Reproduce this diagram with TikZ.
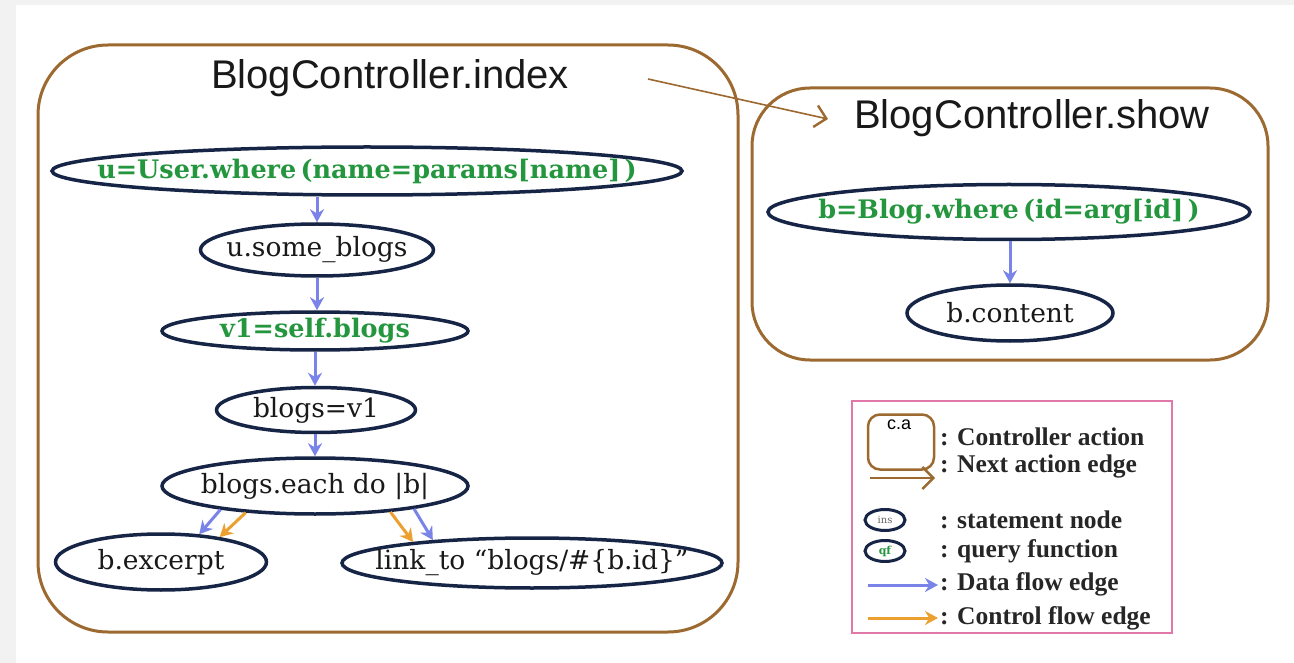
\documentclass[tikz,border=0pt]{standalone}
\usepackage{fontspec}
\newfontfamily\titlefont{Liberation Sans}
\newfontfamily\nodefont{DejaVu Serif}
\newfontfamily\legendfont{Liberation Serif}
\usetikzlibrary{arrows.meta,shapes.geometric}

\definecolor{boxbrown}{RGB}{156,106,48}
\definecolor{navyline}{RGB}{22,36,70}
\definecolor{querygreen}{RGB}{36,150,62}
\definecolor{dataflow}{RGB}{122,132,232}
\definecolor{ctrlflow}{RGB}{236,160,48}
\definecolor{legendpink}{RGB}{226,120,170}
\definecolor{framegray}{RGB}{242,242,242}

% ellipse whose size is set by minimum width/height, not by its text
\newcommand{\fixedtext}[1]{\makebox[0pt]{#1}}

\tikzset{
  action/.style={draw=boxbrown, line width=3pt, rounded corners=70pt},
  stmt/.style={ellipse, draw=navyline, line width=3.5pt, inner sep=0pt,
    font=\nodefont\fontsize{26.5}{31}\selectfont, text=black!90},
  query/.style={stmt, text=querygreen, font=\nodefont\bfseries\fontsize{25.5}{30}\selectfont},
  dflow/.style={draw=dataflow, line width=3pt, -{Stealth[length=13pt,width=14pt]}},
  cflow/.style={draw=ctrlflow, line width=3pt, -{Stealth[length=13pt,width=14pt]}},
  nextact/.style={draw=boxbrown, line width=1.6pt, -{Straight Barb[length=11pt,width=22pt,line width=2.4pt]}},
  title/.style={font=\titlefont\fontsize{40}{45}\selectfont, text=black!90},
  legtext/.style={anchor=west, font=\legendfont\bfseries\fontsize{25.5}{30}\selectfont, text=black!85, inner sep=0pt},
}

\begin{document}
\begin{tikzpicture}[x=1pt, y=-1pt]
  \useasboundingbox (0,0) rectangle (1294,663);
  % page frame
  \fill[framegray] (0,0) rectangle (1294,663);
  \fill[white] (16,5) rectangle (1294,663);

  % controller actions
  \draw[action] (38,45) rectangle (738,632);
  \draw[action, rounded corners=58pt] (752,88) rectangle (1268,360);
  \node[title] (tindex) at (390,78) {BlogController.index};
  \node[title] (tshow) at (1032,118) {BlogController.show};
  \coordinate (nextfrom) at (648,79);
  \coordinate (nextto) at (828,119);
  \draw[nextact] (nextfrom) -- (nextto);

  % BlogController.index statements
  \node[query, minimum width=630pt, minimum height=48pt] (q1) at (367,171) {\fixedtext{u=User.where\,(name=params[name]\,)}};
  \node[stmt, minimum width=233pt, minimum height=52pt] (s1) at (317,250) {\fixedtext{u.some\_blogs}};
  \node[query, minimum width=306pt, minimum height=38pt] (q2) at (315,331) {\fixedtext{v1=self.blogs}};
  \node[stmt, minimum width=199pt, minimum height=45pt] (s2) at (316,410) {\fixedtext{blogs=v1}};
  \node[stmt, minimum width=306pt, minimum height=56pt] (s3) at (315,486) {\fixedtext{blogs.each do \textbar b\textbar}};
  \node[stmt, minimum width=211pt, minimum height=56pt] (s4) at (161,562) {\fixedtext{b.excerpt}};
  \node[stmt, minimum width=380pt, minimum height=50pt] (s5) at (532,563) {\fixedtext{link\_to “blogs/\#\{b.id\}”}};

  \draw[dflow] (q1.south -| s1.north) -- (s1.north);
  \draw[dflow] (s1.south) -- (q2.north -| s1.south);
  \draw[dflow] (q2.south) -- (s2.north -| q2.south);
  \draw[dflow] (s2.south -| q2.south) -- (s3.north -| q2.south);
  \draw[dflow] (s3.194) -- (s4.36);
  \draw[cflow] (s3.201) -- (s4.23);
  \draw[cflow] (s3.-19) -- (s5.170.5);
  \draw[dflow] (s3.-13.5) -- (s5.167.5);

  % BlogController.show statements
  \node[query, minimum width=482pt, minimum height=55pt] (q3) at (1009,212) {\fixedtext{b=Blog.where\,(id=arg[id]\,)}};
  \node[stmt, minimum width=206pt, minimum height=56pt] (s6) at (1010,313) {\fixedtext{b.content}};
  \draw[dflow] (q3.south -| s6.north) -- (s6.north);

  % legend
  \draw[legendpink, line width=2pt] (852,401) rectangle (1172,633);
  \node[draw=boxbrown, line width=2.5pt, rounded corners=12pt, minimum width=66pt, minimum height=55pt,
        inner sep=0pt] (lgbox) at (901,442) {};
  \node[font=\titlefont\fontsize{18}{20}\selectfont, anchor=north] (lgca) at (899,416) {c.a};
  \coordinate (lgnexta) at (870,478);
  \coordinate (lgnextb) at (935,478);
  \draw[nextact, line width=2pt] (lgnexta) -- (lgnextb);
  \node[ellipse, draw=navyline, line width=3pt, minimum width=40pt, minimum height=21pt, inner sep=0pt,
        font=\nodefont\fontsize{10}{11}\selectfont, text=black!60] (lgins) at (885,520) {\fixedtext{ins}};
  \node[ellipse, draw=navyline, line width=3pt, minimum width=40pt, minimum height=21pt, inner sep=0pt,
        font=\nodefont\bfseries\fontsize{11}{12}\selectfont, text=querygreen] (lgqf) at (885,551) {\fixedtext{qf}};
  \coordinate (lgda) at (868,585);
  \coordinate (lgdb) at (938,585);
  \draw[dflow] (lgda) -- (lgdb);
  \coordinate (lgca1) at (868,618);
  \coordinate (lgcb1) at (938,618);
  \draw[cflow] (lgca1) -- (lgcb1);

  \node[legtext] (l1) at (940,437) {: Controller action};
  \node[legtext] (l2) at (940,466) {: Next action edge};
  \node[legtext] (l3) at (940,520) {: statement node};
  \node[legtext] (l4) at (940,551) {: query function};
  \node[legtext] (l5) at (940,584) {: Data flow edge};
  \node[legtext] (l6) at (940,618) {: Control flow edge};
\end{tikzpicture}
\end{document}
